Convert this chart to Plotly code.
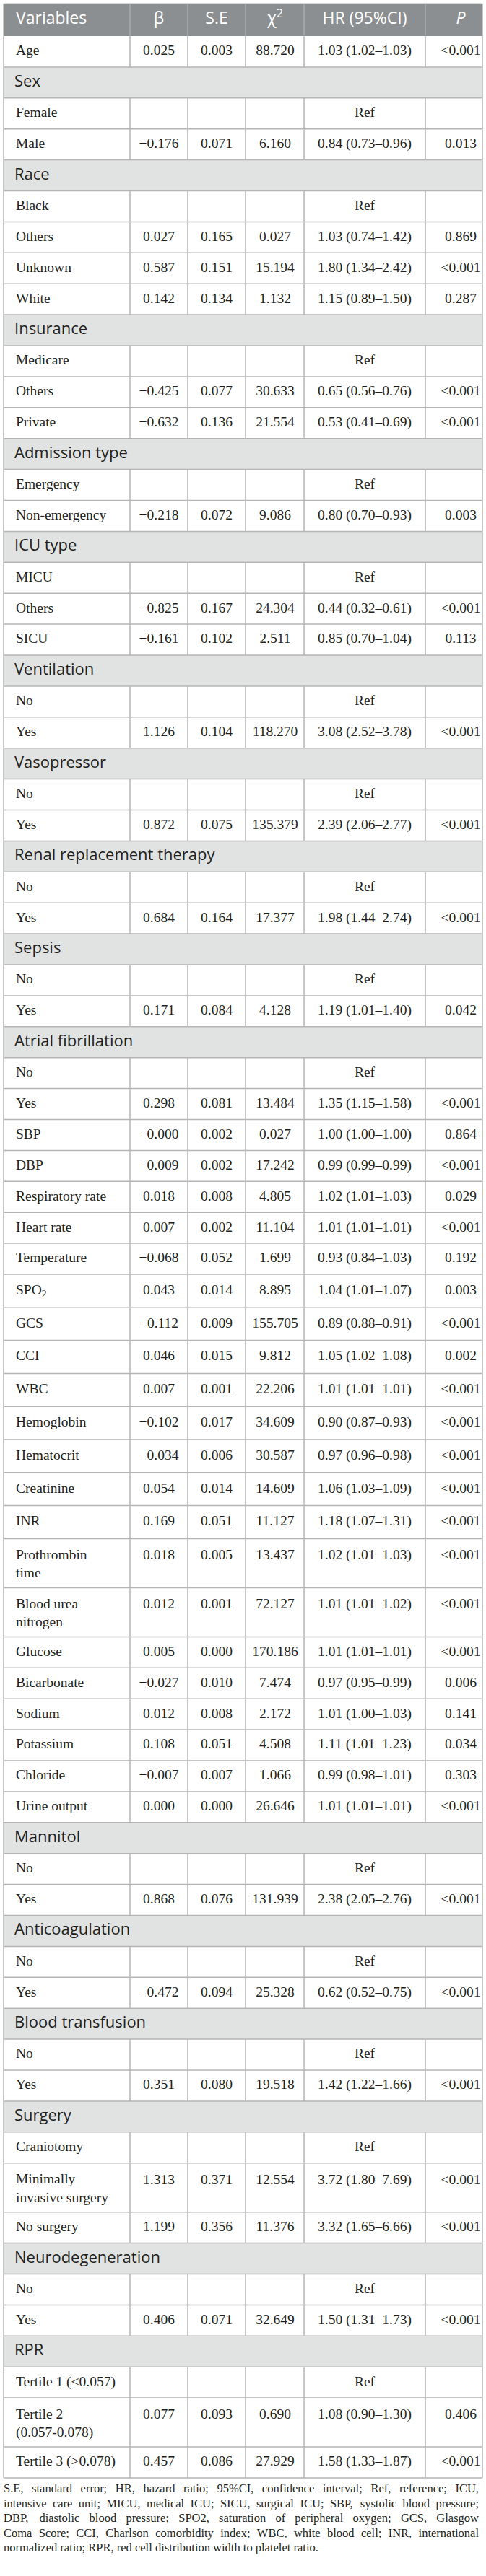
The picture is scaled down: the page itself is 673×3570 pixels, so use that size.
import plotly.graph_objects as go

# table data
variables = ["Age", "Sex", "Female", "Male", "Race", "Black", "Others", "Unknown", "White",
             "Insurance", "Medicare", "Others", "Private", "Admission type", "Emergency", "Non-emergency",
             "ICU type", "MICU", "Others", "SICU", "Ventilation", "No", "Yes", "Vasopressor", "No", "Yes",
             "Renal replacement therapy", "No", "Yes", "Sepsis", "No", "Yes", "Atrial fibrillation", "No", "Yes",
             "SBP", "DBP", "Respiratory rate", "Heart rate", "Temperature", "SPO<sub>2</sub>", "GCS", "CCI",
             "WBC", "Hemoglobin", "Hematocrit", "Creatinine", "INR", "Prothrombin<br>time",
             "Blood urea<br>nitrogen", "Glucose", "Bicarbonate", "Sodium", "Potassium", "Chloride",
             "Urine output", "Mannitol", "No", "Yes", "Anticoagulation", "No", "Yes", "Blood transfusion",
             "No", "Yes", "Surgery", "Craniotomy", "Minimally<br>invasive surgery", "No surgery",
             "Neurodegeneration", "No", "Yes", "RPR", "Tertile 1 (&lt;0.057)", "Tertile 2<br>(0.057-0.078)",
             "Tertile 3 (&gt;0.078)"]

beta = ["0.025", "", "", "−0.176", "", "", "0.027", "0.587", "0.142",
        "", "", "−0.425", "−0.632", "", "", "−0.218",
        "", "", "−0.825", "−0.161", "", "", "1.126", "", "", "0.872",
        "", "", "0.684", "", "", "0.171", "", "", "0.298",
        "−0.000", "−0.009", "0.018", "0.007", "−0.068", "0.043", "−0.112", "0.046",
        "0.007", "−0.102", "−0.034", "0.054", "0.169", "0.018",
        "0.012", "0.005", "−0.027", "0.012", "0.108", "−0.007",
        "0.000", "", "", "0.868", "", "", "−0.472", "",
        "", "0.351", "", "", "1.313", "1.199",
        "", "", "0.406", "", "", "0.077", "0.457"]

se = ["0.003", "", "", "0.071", "", "", "0.165", "0.151", "0.134",
      "", "", "0.077", "0.136", "", "", "0.072",
      "", "", "0.167", "0.102", "", "", "0.104", "", "", "0.075",
      "", "", "0.164", "", "", "0.084", "", "", "0.081",
      "0.002", "0.002", "0.008", "0.002", "0.052", "0.014", "0.009", "0.015",
      "0.001", "0.017", "0.006", "0.014", "0.051", "0.005",
      "0.001", "0.000", "0.010", "0.008", "0.051", "0.007",
      "0.000", "", "", "0.076", "", "", "0.094", "",
      "", "0.080", "", "", "0.371", "0.356",
      "", "", "0.071", "", "", "0.093", "0.086"]

chi2 = ["88.720", "", "", "6.160", "", "", "0.027", "15.194", "1.132",
        "", "", "30.633", "21.554", "", "", "9.086",
        "", "", "24.304", "2.511", "", "", "118.270", "", "", "135.379",
        "", "", "17.377", "", "", "4.128", "", "", "13.484",
        "0.027", "17.242", "4.805", "11.104", "1.699", "8.895", "155.705", "9.812",
        "22.206", "34.609", "30.587", "14.609", "11.127", "13.437",
        "72.127", "170.186", "7.474", "2.172", "4.508", "1.066",
        "26.646", "", "", "131.939", "", "", "25.328", "",
        "", "19.518", "", "", "12.554", "11.376",
        "", "", "32.649", "", "", "0.690", "27.929"]

hr = ["1.03 (1.02–1.03)", "", "Ref", "0.84 (0.73–0.96)", "", "Ref", "1.03 (0.74–1.42)", "1.80 (1.34–2.42)",
      "1.15 (0.89–1.50)",
      "", "Ref", "0.65 (0.56–0.76)", "0.53 (0.41–0.69)", "", "Ref", "0.80 (0.70–0.93)",
      "", "Ref", "0.44 (0.32–0.61)", "0.85 (0.70–1.04)", "", "Ref", "3.08 (2.52–3.78)", "", "Ref",
      "2.39 (2.06–2.77)",
      "", "Ref", "1.98 (1.44–2.74)", "", "Ref", "1.19 (1.01–1.40)", "", "Ref", "1.35 (1.15–1.58)",
      "1.00 (1.00–1.00)", "0.99 (0.99–0.99)", "1.02 (1.01–1.03)", "1.01 (1.01–1.01)", "0.93 (0.84–1.03)",
      "1.04 (1.01–1.07)", "0.89 (0.88–0.91)", "1.05 (1.02–1.08)",
      "1.01 (1.01–1.01)", "0.90 (0.87–0.93)", "0.97 (0.96–0.98)", "1.06 (1.03–1.09)", "1.18 (1.07–1.31)",
      "1.02 (1.01–1.03)",
      "1.01 (1.01–1.02)", "1.01 (1.01–1.01)", "0.97 (0.95–0.99)", "1.01 (1.00–1.03)", "1.11 (1.01–1.23)",
      "0.99 (0.98–1.01)",
      "1.01 (1.01–1.01)", "", "Ref", "2.38 (2.05–2.76)", "", "Ref", "0.62 (0.52–0.75)", "",
      "Ref", "1.42 (1.22–1.66)", "", "Ref", "3.72 (1.80–7.69)", "3.32 (1.65–6.66)",
      "", "Ref", "1.50 (1.31–1.73)", "", "Ref", "1.08 (0.90–1.30)", "1.58 (1.33–1.87)"]

p_value = ["&lt;0.001", "", "", "0.013", "", "", "0.869", "&lt;0.001", "0.287",
           "", "", "&lt;0.001", "&lt;0.001", "", "", "0.003",
           "", "", "&lt;0.001", "0.113", "", "", "&lt;0.001", "", "", "&lt;0.001",
           "", "", "&lt;0.001", "", "", "0.042", "", "", "&lt;0.001",
           "0.864", "&lt;0.001", "0.029", "&lt;0.001", "0.192", "0.003", "&lt;0.001", "0.002",
           "&lt;0.001", "&lt;0.001", "&lt;0.001", "&lt;0.001", "&lt;0.001", "&lt;0.001",
           "&lt;0.001", "&lt;0.001", "0.006", "0.141", "0.034", "0.303",
           "&lt;0.001", "", "", "&lt;0.001", "", "", "&lt;0.001", "",
           "", "&lt;0.001", "", "", "&lt;0.001", "&lt;0.001",
           "", "", "&lt;0.001", "", "", "0.406", "&lt;0.001"]

headers = ["Variables", "β", "S.E", "χ<sup>2</sup>", "HR (95%CI)", "<i>P</i>"]

footnote = ["S.E, standard error; HR, hazard ratio; 95%CI, confidence interval; Ref, reference; ICU,",
            "intensive care unit; MICU, medical ICU; SICU, surgical ICU; SBP, systolic blood pressure;",
            "DBP, diastolic blood pressure; SPO2, saturation of peripheral oxygen; GCS, Glasgow",
            "Coma Score; CCI, Charlson comorbidity index; WBC, white blood cell; INR, international",
            "normalized ratio; RPR, red cell distribution width to platelet ratio."]

# layout (pixel units)
W, H = 673, 3570
LEFT, RIGHT = 5, 668
col_edges = [LEFT, 180, 260, 340, 421, 589, RIGHT]
col_centers = [None, 220, 300, 381, 505, 638]
TOP, HEAD_H = 5, 45
taller = set(range(40, 48))   # SPO2 .. INR rows come out a bit taller in the original

SERIF = "Liberation Serif"
SANS = "Open Sans"
GRID = "#b5b5b5"
HEAD_BG = "#8c8f91"
GROUP_BG = "#e1e3e3"
INK = "#231f20"
FOOT_SIZE = 16.5

is_group = [h == "" for h in hr]

# row geometry
tops, heights = [], []
y = TOP + HEAD_H
for i, lab in enumerate(variables):
    if "<br>" in lab:
        h = 68
    elif i in taller:
        h = 45.8
    else:
        h = 42.9
    tops.append(y)
    heights.append(h)
    y += h
table_bottom = y

fig = go.Figure()
shapes = []

# header background + light separators
shapes.append(dict(type="rect", x0=LEFT, x1=RIGHT, y0=TOP, y1=TOP + HEAD_H,
                   fillcolor=HEAD_BG, line=dict(width=0), layer="below"))
for xe in col_edges[1:-1]:
    shapes.append(dict(type="line", x0=xe, x1=xe, y0=TOP, y1=TOP + HEAD_H,
                       line=dict(color="#a9acad", width=1.5)))

for i in range(len(variables)):
    t, h = tops[i], heights[i]
    if is_group[i]:
        shapes.append(dict(type="rect", x0=LEFT, x1=RIGHT, y0=t, y1=t + h,
                           fillcolor=GROUP_BG, line=dict(width=0), layer="below"))
    else:
        for xe in col_edges[1:-1]:
            shapes.append(dict(type="line", x0=xe, x1=xe, y0=t, y1=t + h,
                               line=dict(color=GRID, width=1.5)))
    shapes.append(dict(type="line", x0=LEFT, x1=RIGHT, y0=t + h, y1=t + h,
                       line=dict(color=GRID, width=1.5)))

shapes.append(dict(type="line", x0=LEFT, x1=RIGHT, y0=TOP, y1=TOP, line=dict(color="#c8c8c8", width=1.5)))
shapes.append(dict(type="line", x0=LEFT, x1=LEFT, y0=TOP, y1=table_bottom, line=dict(color=GRID, width=1.5)))
shapes.append(dict(type="line", x0=RIGHT, x1=RIGHT, y0=TOP, y1=table_bottom, line=dict(color=GRID, width=1.5)))

# header text
fig.add_trace(go.Scatter(x=[22], y=[TOP + HEAD_H / 2], text=[headers[0]], mode="text",
                         textposition="middle right", textfont=dict(family=SANS, size=23, color="white")))
fig.add_trace(go.Scatter(x=col_centers[1:], y=[TOP + HEAD_H / 2] * 5, text=headers[1:], mode="text",
                         textposition="middle center", textfont=dict(family=SANS, size=23, color="white")))

# row labels
def first_line_y(i):
    return tops[i] + (24 if "<br>" in variables[i] else heights[i] / 2)

def label_y(i):
    return tops[i] + (36.5 if "<br>" in variables[i] else heights[i] / 2)

grp = [i for i in range(len(variables)) if is_group[i]]
body = [i for i in range(len(variables)) if not is_group[i]]

fig.add_trace(go.Scatter(x=[20] * len(grp), y=[label_y(i) for i in grp], text=[variables[i] for i in grp],
                         mode="text", textposition="middle right",
                         textfont=dict(family=SANS, size=22, color=INK)))
fig.add_trace(go.Scatter(x=[22] * len(body), y=[label_y(i) for i in body], text=[variables[i] for i in body],
                         mode="text", textposition="middle right",
                         textfont=dict(family=SERIF, size=19.5, color=INK)))

# value columns
for col, values in zip(col_centers[1:], [beta, se, chi2, hr, p_value]):
    idx = [i for i in body if values[i] != ""]
    fig.add_trace(go.Scatter(x=[col] * len(idx), y=[first_line_y(i) for i in idx],
                             text=[values[i] for i in idx], mode="text", textposition="middle center",
                             textfont=dict(family=SERIF, size=19.5, color=INK)))

# footnote, justified like the journal layout (Times-compatible advance widths)
ADV = {" ": 250, ",": 250, ".": 250, ";": 278, "%": 833}
ADV.update({c: 500 for c in "0123456789bdghknopquvxy"})
ADV.update({"a": 444, "c": 444, "e": 444, "z": 444, "f": 333, "r": 333, "s": 389, "i": 278, "j": 278,
            "l": 278, "t": 278, "m": 778, "w": 722})
ADV.update({"A": 722, "B": 667, "C": 667, "D": 722, "E": 611, "G": 722, "H": 722, "I": 333, "M": 889,
            "N": 722, "O": 722, "P": 556, "R": 667, "S": 556, "U": 722, "W": 944})

def text_width(s):
    return sum(ADV.get(c, 500) for c in s) * FOOT_SIZE / 1000

fx, fy, ft = [], [], []
for k, line in enumerate(footnote):
    words = line.split(" ")
    yk = table_bottom + 16 + 20.5 * k
    natural_gap = ADV[" "] * FOOT_SIZE / 1000
    if k < len(footnote) - 1 and len(words) > 1:
        gap = (RIGHT - 5 - LEFT - sum(text_width(w) for w in words)) / (len(words) - 1)
        gap = max(gap, natural_gap)
    else:
        gap = natural_gap
    xk = LEFT
    for w in words:
        fx.append(xk)
        fy.append(yk)
        ft.append(w)
        xk += text_width(w) + gap
fig.add_trace(go.Scatter(x=fx, y=fy, text=ft, mode="text", textposition="middle right",
                         textfont=dict(family=SERIF, size=FOOT_SIZE, color=INK)))

fig.update_layout(
    width=W, height=H,
    margin=dict(l=0, r=0, t=0, b=0),
    paper_bgcolor="white", plot_bgcolor="white",
    showlegend=False, hovermode=False,
    shapes=shapes,
    xaxis=dict(range=[0, W], visible=False, fixedrange=True),
    yaxis=dict(range=[H, 0], visible=False, fixedrange=True),
)

# page margin would push the 673px figure past the window edge
fig.write_html("out.html", config={"displayModeBar": False},
               post_script="document.body.style.margin='0';document.body.style.overflow='hidden';")
